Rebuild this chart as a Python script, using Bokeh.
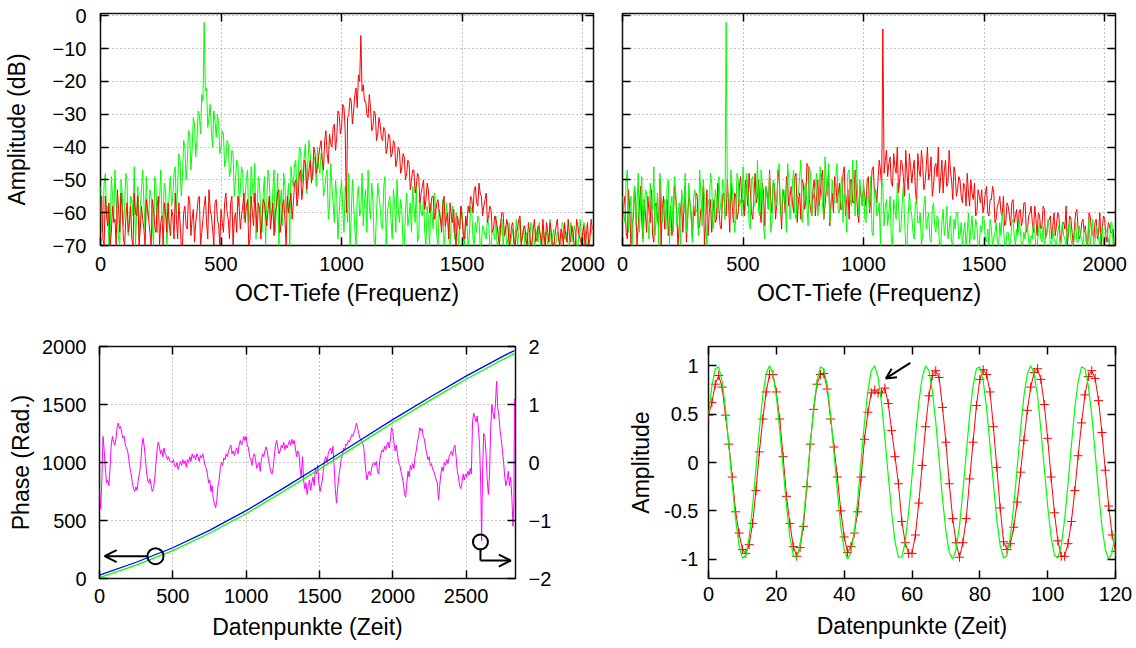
from bokeh.plotting import figure
from bokeh.layouts import column, row
from bokeh.models import (Range1d, LinearAxis, FixedTicker, Arrow, OpenHead,
                          CustomJSTickFormatter)
from bokeh.embed import file_html
from bokeh.resources import INLINE

FONT = "Liberation Sans"

# ---------------- data: spectra (top row) ----------------
# values on the 10-unit grid (0, 10, 20, ...) and on the half grid (5, 15, 25, ...)
spec_step = 10
tl_green = [-52,-63,-48,-58,-66,-55,-47,-61,-70,-54,
            -59,-50,-64,-56,-46,-60,-68,-53,-57,-49,
            -62,-55,-70,-51,-58,-47,-60,-53,-64,-49,
            -55,-46,-52,-44,-49,-40,-45,-36,-41,-33,
            -38,-30,-24,-2,-22,-31,-35,-29,-37,-33,
            -40,-36,-44,-39,-47,-42,-50,-45,-53,-48,
            -55,-47,-60,-51,-45,-58,-52,-66,-49,-56,
            -50,-62,-47,-57,-70,-53,-48,-60,-51,-46,
            -52,-44,-49,-41,-47,-39,-45,-42,-50,-43,
            -40,-48,-44,-53,-47,-58,-52,-63,-55,-60,
            -50,-66,-54,-48,-61,-57,-70,-52,-59,-64,
            -53,-47,-62,-56,-70,-51,-58,-65,-49,-60,
            -55,-68,-57,-50,-63,-59,-70,-54,-61,-66,
            -58,-52,-67,-60,-55,-70,-62,-57,-65,-59,
            -70,-61,-56,-66,-63,-70,-58,-68,-62,-65,
            -60,-70,-64,-67,-59,-70,-66,-62,-70,-65,
            -68,-63,-70,-66,-61,-69,-67,-70,-64,-68,
            -70,-65,-67,-70,-62,-68,-70,-66,-69,-64,
            -70,-67,-63,-69,-70,-66,-68,-70,-65,-69,
            -67,-70,-64,-68,-70,-63,-69,-66,-70,-62,
            -68,-64,-70,-66,-67]
tl_green_half = [-66,-51,-60,-70,-49,-62,-57,-68,-50,-64,
                 -48,-67,-55,-61,-70,-52,-58,-47,-65,-60,
                 -53,-64,-49,-66,-56,-62,-51,-70,-54,-58,
                 -48,-60,-42,-55,-38,-50,-35,-47,-31,-43,
                 -29,-36,-26,-23,-34,-27,-40,-32,-30,-42,
                 -35,-46,-38,-49,-41,-55,-44,-58,-46,-62,
                 -50,-63,-46,-57,-68,-49,-61,-54,-70,-47,
                 -59,-53,-66,-48,-58,-64,-52,-56,-70,-50,
                 -45,-55,-40,-51,-43,-54,-38,-49,-44,-52,
                 -46,-42,-55,-49,-62,-45,-57,-50,-68,-54,
                 -59,-52,-63,-70,-50,-65,-55,-61,-48,-57,
                 -66,-58,-51,-69,-60,-55,-64,-52,-70,-57,
                 -62,-53,-66,-59,-56,-70,-60,-64,-57,-52,
                 -63,-69,-56,-61,-66,-58,-70,-60,-54,-67,
                 -59,-64,-70,-57,-68,-62,-65,-60,-70,-58,
                 -66,-62,-70,-58,-68,-63,-61,-70,-64,-67,
                 -62,-70,-65,-68,-70,-64,-62,-66,-70,-63,
                 -67,-70,-62,-66,-69,-64,-67,-70,-63,-70,
                 -65,-69,-70,-64,-66,-70,-62,-67,-70,-66,
                 -70,-63,-68,-66,-70,-65,-64,-70,-67,-69,
                 -63,-70,-67,-65]
tl_red = [-60,-68,-55,-64,-70,-58,-62,-53,-66,-59,
          -70,-57,-63,-68,-54,-61,-70,-58,-65,-56,
          -62,-70,-59,-66,-55,-63,-70,-60,-57,-67,
          -61,-54,-68,-63,-70,-58,-65,-56,-62,-69,
          -60,-55,-66,-58,-63,-53,-61,-70,-56,-64,
          -59,-66,-54,-62,-57,-70,-60,-55,-65,-58,
          -63,-56,-68,-60,-54,-66,-59,-62,-57,-64,
          -55,-61,-67,-58,-53,-63,-56,-70,-60,-54,
          -57,-50,-55,-47,-52,-45,-50,-44,-48,-42,
          -46,-40,-44,-38,-42,-36,-40,-33,-37,-30,
          -34,-28,-60,-30,-26,-29,-22,-18,-6,-21,
          -26,-31,-28,-34,-30,-36,-33,-38,-35,-40,
          -37,-42,-39,-44,-41,-46,-43,-48,-45,-50,
          -47,-52,-49,-54,-50,-56,-53,-58,-55,-60,
          -56,-62,-58,-64,-60,-57,-63,-66,-61,-65,
          -62,-68,-64,-60,-56,-53,-57,-51,-55,-58,
          -54,-61,-59,-65,-62,-67,-63,-60,-66,-64,
          -68,-63,-70,-65,-61,-67,-64,-70,-66,-69,
          -62,-68,-65,-70,-67,-63,-69,-66,-70,-64,
          -68,-65,-70,-67,-62,-69,-66,-70,-64,-68,
          -66,-70,-63,-68,-65]
tl_red_half = [-55,-70,-61,-57,-66,-63,-70,-59,-54,-68,
               -62,-66,-58,-70,-60,-55,-65,-62,-70,-59,
               -66,-56,-64,-58,-70,-61,-57,-66,-63,-59,
               -68,-62,-57,-70,-60,-64,-55,-67,-59,-63,
               -56,-70,-62,-55,-68,-59,-65,-57,-62,-70,
               -63,-57,-60,-68,-55,-62,-66,-58,-61,-54,
               -58,-70,-55,-64,-60,-57,-68,-56,-61,-59,
               -65,-57,-60,-54,-66,-58,-62,-55,-57,-62,
               -51,-58,-48,-56,-44,-53,-47,-51,-40,-48,
               -43,-38,-47,-35,-45,-39,-34,-41,-29,-36,
               -27,-35,-31,-25,-33,-24,-28,-20,-23,-26,
               -30,-24,-35,-29,-38,-31,-37,-34,-42,-36,
               -43,-38,-46,-40,-48,-42,-50,-44,-53,-47,
               -54,-48,-57,-52,-59,-51,-60,-55,-62,-57,
               -60,-66,-55,-62,-68,-61,-59,-70,-63,-58,
               -67,-61,-58,-55,-60,-52,-58,-54,-61,-56,
               -63,-58,-66,-61,-64,-70,-60,-67,-62,-70,
               -64,-69,-66,-62,-70,-65,-68,-63,-70,-65,
               -69,-64,-67,-62,-70,-66,-63,-70,-67,-62,
               -70,-66,-63,-69,-67,-64,-70,-62,-67,-70,
               -64,-67,-70,-62]
tr_green = [-55,-63,-47,-60,-70,-52,-58,-66,-49,-61,
            -54,-68,-57,-46,-62,-70,-53,-59,-65,-50,
            -58,-66,-52,-61,-70,-56,-48,-63,-57,-69,
            -53,-60,-47,-64,-55,-70,-58,-51,-62,-56,
            -49,-60,-52,-2,-54,-47,-58,-62,-50,-56,
            -46,-59,-53,-65,-49,-57,-44,-61,-52,-68,
            -55,-48,-63,-51,-58,-45,-60,-53,-66,-50,
            -57,-47,-62,-54,-44,-59,-51,-64,-48,-56,
            -52,-61,-46,-58,-43,-55,-63,-50,-57,-45,
            -60,-49,-54,-66,-47,-58,-52,-44,-61,-55,
            -50,-63,-56,-49,-67,-54,-60,-70,-52,-58,
            -64,-55,-70,-59,-51,-66,-57,-62,-70,-54,
            -61,-68,-56,-63,-70,-58,-65,-60,-69,-57,
            -66,-62,-70,-59,-64,-68,-61,-70,-65,-60,
            -67,-70,-63,-66,-70,-61,-68,-64,-70,-66,
            -62,-69,-70,-65,-68,-63,-70,-67,-64,-70,
            -66,-69,-62,-70,-67,-65,-70,-68,-64,-70,
            -68,-66,-70,-63,-69,-70,-67,-65,-70,-68,
            -70,-64,-69,-67,-70,-66,-68,-70,-63,-69,
            -67,-70,-65,-68,-70,-62,-69,-66,-70,-64,
            -69,-66,-70,-63,-68]
tr_green_half = [-60,-50,-66,-55,-58,-64,-48,-57,-69,-53,
                 -62,-51,-59,-67,-54,-48,-63,-56,-52,-70,
                 -55,-49,-64,-57,-53,-60,-66,-51,-62,-55,
                 -59,-67,-54,-50,-62,-56,-48,-65,-53,-60,
                 -57,-50,-62,-55,-60,-52,-66,-48,-58,-61,
                 -53,-48,-63,-50,-58,-55,-60,-47,-64,-52,
                 -59,-66,-50,-56,-48,-61,-53,-58,-45,-62,
                 -51,-60,-55,-49,-63,-52,-58,-46,-61,-54,
                 -48,-57,-53,-62,-50,-45,-58,-55,-49,-60,
                 -52,-63,-57,-48,-56,-44,-61,-53,-50,-58,
                 -62,-55,-59,-66,-53,-61,-57,-50,-64,-56,
                 -60,-68,-56,-62,-58,-65,-52,-70,-61,-59,
                 -66,-57,-63,-60,-67,-55,-62,-68,-59,-64,
                 -61,-70,-63,-67,-58,-65,-69,-62,-60,-68,
                 -63,-66,-70,-60,-65,-68,-62,-70,-64,-61,
                 -68,-65,-62,-70,-66,-69,-63,-60,-70,-66,
                 -70,-63,-67,-65,-62,-70,-66,-64,-69,-67,
                 -63,-70,-66,-68,-64,-67,-62,-70,-65,-69,
                 -66,-70,-63,-68,-65,-62,-70,-67,-69,-64,
                 -68,-65,-70,-62,-67,-70,-64,-68,-66,-70,
                 -65,-68,-63,-70]
tr_red = [-62,-55,-68,-59,-65,-52,-70,-58,-63,-56,
          -66,-60,-53,-69,-57,-64,-70,-55,-61,-67,
          -58,-63,-54,-70,-60,-66,-52,-62,-57,-68,
          -61,-55,-64,-58,-70,-53,-60,-66,-56,-62,
          -59,-65,-54,-61,-57,-51,-63,-55,-60,-49,
          -56,-50,-58,-53,-62,-48,-55,-59,-51,-64,
          -54,-47,-60,-52,-57,-50,-65,-55,-49,-58,
          -52,-60,-48,-56,-62,-51,-57,-46,-59,-53,
          -61,-50,-55,-47,-58,-52,-64,-54,-49,-57,
          -51,-59,-46,-56,-62,-50,-57,-53,-63,-55,
          -52,-58,-49,-56,-46,-53,-50,-47,-4,-44,
          -49,-43,-52,-46,-40,-50,-45,-55,-48,-42,
          -51,-44,-57,-47,-41,-53,-46,-50,-43,-52,
          -45,-40,-49,-54,-44,-51,-47,-56,-48,-53,
          -50,-57,-52,-48,-58,-54,-51,-60,-55,-53,
          -58,-52,-61,-56,-54,-62,-57,-60,-55,-63,
          -58,-64,-56,-61,-66,-59,-62,-57,-65,-60,
          -63,-58,-67,-61,-64,-59,-66,-62,-68,-60,
          -64,-61,-69,-63,-58,-66,-62,-70,-60,-65,
          -67,-62,-64,-70,-61,-66,-63,-68,-60,-65,
          -62,-69,-64,-66,-70]
tr_red_half = [-58,-66,-53,-70,-61,-57,-64,-52,-68,-60,
               -55,-63,-67,-58,-62,-50,-59,-65,-56,-62,
               -67,-52,-60,-64,-56,-59,-69,-55,-61,-58,
               -54,-65,-59,-52,-63,-67,-56,-60,-63,-51,
               -64,-55,-60,-50,-66,-58,-54,-62,-52,-57,
               -61,-53,-48,-60,-55,-57,-50,-63,-54,-52,
               -59,-56,-51,-62,-47,-58,-53,-60,-52,-55,
               -57,-49,-63,-54,-50,-59,-45,-56,-61,-50,
               -55,-58,-49,-62,-53,-48,-57,-60,-51,-54,
               -59,-48,-61,-53,-50,-57,-47,-60,-52,-58,
               -55,-50,-60,-47,-54,-57,-44,-52,-48,-41,
               -45,-51,-42,-48,-54,-44,-49,-41,-53,-46,
               -47,-53,-42,-49,-45,-51,-40,-48,-55,-46,
               -49,-54,-44,-47,-52,-41,-50,-46,-55,-49,
               -55,-51,-58,-54,-50,-56,-61,-53,-57,-60,
               -54,-60,-56,-52,-63,-58,-55,-61,-64,-57,
               -61,-57,-63,-59,-60,-64,-57,-66,-61,-58,
               -66,-62,-60,-65,-58,-68,-63,-61,-64,-67,
               -60,-67,-63,-65,-70,-61,-66,-64,-59,-68,
               -63,-66,-70,-60,-65,-68,-62,-66,-70,-61,
               -67,-63,-66,-65]
spec_xticks = [0, 500, 1000, 1500, 2000]
spec_yticks = [-70, -60, -50, -40, -30, -20, -10, 0]

# ---------------- data: phase (bottom left) ----------------
phase_x = [0, 250, 500, 750, 1000, 1250, 1500, 1750, 2000, 2250, 2500, 2750, 2830]
phase_blue = [30, 140, 265, 415, 585, 775, 970, 1170, 1370, 1560, 1745, 1915, 1965]
phase_green = [8, 115, 240, 390, 558, 748, 943, 1143, 1343, 1533, 1718, 1888, 1938]
phase_diff = [(0,-0.45),(8,-0.80),(16,-0.30),(24,0.45),(32,0.20),(40,-0.10),(48,-0.35),(56,-0.30),
    (64,-0.40),(72,-0.10),(80,0.30),(88,0.45),(96,0.35),(104,0.30),(112,0.40),(120,0.60),(128,0.68),
    (136,0.58),(144,0.62),(152,0.50),(160,0.42),(168,0.45),(176,0.30),(184,0.25),(192,0.20),(200,0.05),
    (208,-0.10),(216,-0.20),(224,-0.35),(232,-0.45),(240,-0.50),(248,-0.42),(256,-0.48),(264,-0.30),
    (272,-0.20),(280,-0.05),(288,0.25),(296,0.42),(304,0.30),(312,0.10),(320,-0.15),(328,-0.30),
    (336,-0.35),(344,-0.28),(352,-0.40),(360,-0.50),(368,-0.45),(376,-0.30),(384,-0.05),(392,0.20),
    (400,0.35),(408,0.28),(416,0.15),(424,0.22),(432,0.10),(440,0.25),(448,0.15),(456,0.12),(464,0.05),
    (472,0.10),(480,0.02),(496,0.00),(504,0.05),(512,-0.05),(520,-0.08),(528,0.00),(536,-0.12),
    (544,-0.05),(552,0.02),(560,-0.05),(568,0.05),(576,-0.02),(584,0.03),(592,-0.08),(600,0.05),
    (608,0.00),(616,0.10),(624,0.02),(632,0.15),(640,0.08),(648,0.12),(656,0.05),(664,0.15),(672,0.10),
    (680,0.02),(688,0.12),(696,0.08),(704,0.15),(712,0.05),(720,-0.05),(728,-0.10),(736,-0.20),
    (744,-0.35),(752,-0.30),(760,-0.50),(768,-0.40),(776,-0.62),(784,-0.72),(792,-0.78),(800,-0.65),
    (808,-0.40),(816,-0.30),(824,-0.10),(832,0.00),(840,-0.05),(848,0.08),(856,0.05),(864,0.15),
    (872,0.10),(880,0.20),(888,0.25),(896,0.30),(904,0.15),(912,0.20),(920,0.12),(928,0.20),(936,0.25),
    (944,0.15),(952,0.30),(960,0.38),(968,0.30),(976,0.35),(984,0.45),(992,0.38),(1000,0.45),
    (1008,0.30),(1016,0.25),(1024,0.10),(1032,0.05),(1040,-0.05),(1048,0.10),(1056,0.15),(1064,0.05),
    (1072,-0.10),(1080,-0.05),(1088,0.00),(1096,-0.15),(1104,0.05),(1112,0.15),(1120,0.10),(1128,0.20),
    (1136,0.27),(1144,0.20),(1152,0.05),(1160,-0.05),(1168,-0.15),(1176,-0.20),(1184,-0.10),(1192,0.10),
    (1200,0.30),(1208,0.38),(1216,0.25),(1224,0.15),(1232,0.20),(1240,0.30),(1248,0.25),(1256,0.35),
    (1264,0.22),(1272,0.30),(1280,0.25),(1288,0.32),(1296,0.38),(1304,0.30),(1312,0.40),(1320,0.32),
    (1328,0.38),(1336,0.25),(1344,0.10),(1352,0.20),(1360,0.15),(1368,-0.10),(1376,-0.25),(1384,0.10),
    (1392,-0.30),(1400,-0.45),(1408,-0.35),(1416,-0.55),(1424,-0.40),(1432,-0.30),(1440,-0.48),
    (1448,-0.35),(1456,-0.25),(1464,-0.40),(1472,-0.10),(1480,-0.20),(1488,-0.05),(1496,-0.35),
    (1504,-0.50),(1512,-0.40),(1520,-0.30),(1528,-0.10),(1536,0.05),(1544,0.10),(1552,0.00),(1560,0.15),
    (1568,0.22),(1576,0.25),(1584,0.15),(1592,0.28),(1600,-0.05),(1608,-0.45),(1616,-0.70),(1624,-0.45),
    (1632,-0.25),(1640,-0.10),(1648,0.05),(1656,0.12),(1664,0.25),(1672,0.22),(1680,0.32),(1688,0.30),
    (1696,0.38),(1704,0.35),(1712,0.42),(1720,0.48),(1728,0.45),(1736,0.52),(1744,0.58),(1752,0.68),
    (1760,0.60),(1768,0.50),(1776,0.42),(1784,0.38),(1792,0.35),(1800,0.30),(1808,0.10),(1816,-0.15),
    (1824,-0.30),(1832,-0.20),(1840,-0.15),(1848,-0.22),(1856,-0.10),(1864,-0.02),(1872,0.00),
    (1880,-0.05),(1888,0.02),(1896,-0.15),(1904,-0.20),(1912,0.05),(1920,0.15),(1928,0.22),(1936,0.18),
    (1944,0.28),(1952,0.22),(1960,0.30),(1968,0.35),(1976,0.25),(1984,0.40),(1992,0.60),(2000,0.55),
    (2008,0.35),(2016,0.20),(2024,0.30),(2032,0.15),(2040,0.00),(2048,-0.05),(2056,-0.15),(2064,-0.25),
    (2072,-0.35),(2080,-0.55),(2088,-0.60),(2096,-0.35),(2104,-0.15),(2112,-0.25),(2120,-0.05),
    (2128,-0.12),(2136,-0.02),(2144,-0.10),(2152,0.10),(2160,0.20),(2168,0.35),(2176,0.45),(2184,0.60),
    (2192,0.55),(2200,0.58),(2208,0.45),(2216,0.40),(2224,0.25),(2232,0.15),(2240,0.05),(2248,0.10),
    (2256,-0.05),(2264,-0.02),(2272,-0.12),(2280,-0.15),(2288,-0.22),(2296,-0.30),(2304,-0.35),
    (2312,-0.65),(2320,-0.40),(2328,-0.20),(2336,-0.08),(2344,-0.15),(2352,0.00),(2360,-0.05),
    (2368,0.05),(2376,-0.02),(2384,0.10),(2392,0.15),(2400,0.20),(2408,0.12),(2416,0.25),(2424,0.30),
    (2432,0.10),(2440,-0.15),(2448,-0.25),(2456,-0.40),(2464,-0.45),(2472,-0.35),(2480,-0.20),
    (2488,-0.30),(2496,-0.20),(2504,-0.25),(2512,-0.15),(2520,-0.22),(2528,-0.10),(2536,-0.20),
    (2544,0.70),(2552,0.85),(2560,0.78),(2568,0.70),(2576,0.80),(2584,0.60),(2592,0.30),(2600,-0.40),
    (2606,-1.35),(2612,-0.20),(2620,0.50),(2628,0.45),(2636,0.15),(2644,-0.30),(2652,-0.55),
    (2660,-0.20),(2668,0.60),(2676,1.00),(2684,0.85),(2692,0.75),(2700,1.00),(2708,1.40),(2716,0.95),
    (2724,0.80),(2732,0.55),(2740,0.40),(2748,0.20),(2756,0.00),(2764,-0.25),(2772,-0.40),(2780,-0.30),
    (2788,-0.15),(2796,-0.40),(2804,-0.25),(2812,-0.60),(2820,-1.10),(2826,-0.70),(2830,1.10)]
diff_x = [a for a, b in phase_diff]
diff_y = [b for a, b in phase_diff]
phase_xticks = [0, 500, 1000, 1500, 2000, 2500]
phase_yticks = [0, 500, 1000, 1500, 2000]
diff_yticks = [-2, -1, 0, 1, 2]

# ---------------- data: signal (bottom right) ----------------
sig_x = list(range(121))
sig_green = [0.49,0.79,0.97,0.99,0.84,0.56,0.18,-0.22,-0.59,-0.86,
             -0.99,-0.96,-0.77,-0.45,-0.06,0.34,0.69,0.92,1.00,0.92,
             0.69,0.34,-0.06,-0.45,-0.77,-0.96,-0.99,-0.86,-0.59,-0.22,
             0.18,0.56,0.84,0.99,0.97,0.79,0.49,0.10,-0.30,-0.66,
             -0.90,-1.00,-0.93,-0.72,-0.38,0.02,0.42,0.74,0.95,1.00,
             0.88,0.62,0.26,-0.14,-0.52,-0.82,-0.98,-0.98,-0.82,-0.52,
             -0.14,0.26,0.62,0.88,1.00,0.95,0.74,0.42,0.02,-0.38,
             -0.71,-0.93,-1.00,-0.90,-0.66,-0.30,0.10,0.49,0.79,0.97,
             0.99,0.84,0.56,0.18,-0.22,-0.59,-0.86,-0.99,-0.96,-0.77,
             -0.45,-0.06,0.34,0.69,0.92,1.00,0.92,0.69,0.34,-0.06,
             -0.45,-0.77,-0.96,-0.99,-0.86,-0.59,-0.22,0.18,0.56,0.84,
             0.99,0.97,0.79,0.49,0.10,-0.30,-0.66,-0.90,-1.00,-0.93,
             -0.72]
sig_red = [0.49,0.62,0.81,0.90,0.78,0.49,0.19,-0.15,-0.51,-0.73,
           -0.90,-0.94,-0.85,-0.63,-0.29,0.11,0.45,0.73,0.91,0.91,
           0.73,0.45,0.06,-0.35,-0.63,-0.87,-0.97,-0.88,-0.66,-0.25,
           0.19,0.55,0.81,0.91,0.92,0.76,0.45,0.16,-0.15,-0.50,
           -0.77,-0.93,-0.87,-0.73,-0.51,-0.15,0.24,0.52,0.72,0.75,
           0.72,0.72,0.77,0.61,0.33,0.06,-0.22,-0.61,-0.83,-0.94,
           -0.94,-0.75,-0.42,-0.03,0.37,0.69,0.90,0.95,0.88,0.57,
           0.21,-0.22,-0.58,-0.83,-0.98,-0.83,-0.58,-0.17,0.21,0.59,
           0.86,0.96,0.91,0.73,0.37,-0.05,-0.47,-0.82,-0.90,-0.84,
           -0.67,-0.41,-0.10,0.23,0.54,0.78,0.93,0.97,0.86,0.60,
           0.25,-0.15,-0.52,-0.81,-0.97,-0.97,-0.84,-0.61,-0.29,0.07,
           0.41,0.70,0.89,0.95,0.87,0.64,0.31,-0.08,-0.45,-0.75,
           -0.92]
sig_xticks = [0, 20, 40, 60, 80, 100, 120]
sig_yticks = [-1, -0.5, 0, 0.5, 1]

# ---------------- annotation anchors ----------------
ann_left_circle = (382, 192)          # phase axis units
ann_left_arrow = (325, 192, 35, 192)
ann_right_circle = (2598, -1.37)      # difference axis units
ann_right_path = (2598, -1.48, -1.69, 2805)
ann_sig_arrow = (59.5, 1.03, 52.3, 0.87)

RED = "#ff0000"
GREEN = "#00ff00"
BLUE = "#0000ff"
MAGENTA = "#ff00ff"


def merge(full, half):
    xs, ys = [], []
    for i, v in enumerate(full):
        xs.append(i * spec_step)
        ys.append(v)
        if i < len(half):
            xs.append(i * spec_step + spec_step / 2)
            ys.append(half[i])
    return xs, ys


def style_axis(ax, ticks, labels=True, standoff=12, size="20px"):
    ax.ticker = FixedTicker(ticks=ticks)
    ax.major_tick_in = 8
    ax.major_tick_out = 0
    ax.minor_tick_in = 0
    ax.minor_tick_out = 0
    ax.axis_line_color = None
    ax.major_tick_line_color = "black"
    ax.major_tick_line_width = 1.5
    ax.major_label_text_font = FONT
    ax.major_label_text_color = "black"
    ax.axis_label_text_font = FONT
    ax.axis_label_text_font_size = "23px"
    ax.axis_label_text_font_style = "normal"
    ax.axis_label_text_color = "black"
    if labels:
        ax.major_label_text_font_size = size
        ax.major_label_standoff = standoff
    else:
        ax.formatter = CustomJSTickFormatter(code="return ''")
        ax.major_label_text_font_size = "0px"
        ax.major_label_standoff = 0


def make_fig(w, h, xr, yr, borders):
    p = figure(width=w, height=h, x_range=Range1d(*xr), y_range=Range1d(*yr),
               output_backend="svg", toolbar_location=None,
               min_border_left=borders[0], min_border_right=borders[1],
               min_border_top=borders[2], min_border_bottom=borders[3],
               background_fill_color="white", border_fill_color="white")
    p.outline_line_color = "#111111"
    p.outline_line_width = 1.5
    p.outline_line_alpha = 1.0
    return p


def style_grid(p):
    for g in (p.xgrid, p.ygrid):
        g.grid_line_color = "#8a8a8a"
        g.grid_line_dash = "1 3"
        g.grid_line_width = 1


def add_mirrors(p, xticks, yticks, right=True):
    top = LinearAxis()
    style_axis(top, xticks, labels=False)
    p.add_layout(top, "above")
    if right:
        rax = LinearAxis()
        style_axis(rax, yticks, labels=False)
        p.add_layout(rax, "right")


def spectrum_fig(w, borders, green, green_h, red, red_h, show_ylabels, green_first):
    p = make_fig(w, 318, (0, 2045), (-70, 0.7), borders)
    style_axis(p.xaxis[0], spec_xticks, standoff=11)
    p.xaxis.axis_label = "OCT-Tiefe (Frequenz)"
    p.xaxis.axis_label_standoff = 6
    style_axis(p.yaxis[0], spec_yticks, labels=show_ylabels, standoff=14)
    if show_ylabels:
        p.yaxis.axis_label = "Amplitude (dB)"
        p.yaxis.axis_label_standoff = 20
    style_grid(p)
    add_mirrors(p, spec_xticks, spec_yticks)
    gx, gy = merge(green, green_h)
    rx, ry = merge(red, red_h)
    if green_first:
        p.line(gx, gy, line_color=GREEN, line_width=1)
        p.line(rx, ry, line_color=RED, line_width=1)
    else:
        p.line(rx, ry, line_color=RED, line_width=1)
        p.line(gx, gy, line_color=GREEN, line_width=1)
    return p


p1 = spectrum_fig(608, (100, 15, 13, 73), tl_green, tl_green_half, tl_red, tl_red_half, True, True)
p2 = spectrum_fig(528, (14, 21, 13, 73), tr_green, tr_green_half, tr_red, tr_red_half, False, False)

# ---------------- bottom left: phase ----------------
p3 = make_fig(608, 330, (0, 2837), (0, 2000), (99, 93, 28, 70))
p3.extra_y_ranges = {"diff": Range1d(-2, 2)}
style_axis(p3.xaxis[0], phase_xticks, standoff=10)
p3.xaxis.axis_label = "Datenpunkte (Zeit)"
p3.xaxis.axis_label_standoff = 8
style_axis(p3.yaxis[0], phase_yticks, standoff=13)
p3.yaxis.axis_label = "Phase (Rad.)"
p3.yaxis.axis_label_standoff = 5
style_grid(p3)
top3 = LinearAxis()
style_axis(top3, phase_xticks, labels=False)
p3.add_layout(top3, "above")
r3 = LinearAxis(y_range_name="diff")
style_axis(r3, diff_yticks, standoff=13)
p3.add_layout(r3, "right")

p3.line(diff_x, diff_y, line_color=MAGENTA, line_width=1, y_range_name="diff")
p3.line(phase_x, phase_green, line_color=GREEN, line_width=1.3)
p3.line(phase_x, phase_blue, line_color=BLUE, line_width=1.3)

p3.scatter([ann_left_circle[0]], [ann_left_circle[1]], marker="circle", size=16,
           fill_color=None, line_color="black", line_width=2)
p3.add_layout(Arrow(end=OpenHead(size=12, line_width=2, line_color="black"),
                    x_start=ann_left_arrow[0], y_start=ann_left_arrow[1],
                    x_end=ann_left_arrow[2], y_end=ann_left_arrow[3],
                    line_width=2, line_color="black"))
p3.scatter([ann_right_circle[0]], [ann_right_circle[1]], marker="circle", size=15,
           fill_color=None, line_color="black", line_width=2, y_range_name="diff")
p3.add_layout(Arrow(end=None, x_start=ann_right_path[0], y_start=ann_right_path[1],
                    x_end=ann_right_path[0], y_end=ann_right_path[2],
                    line_width=2, line_color="black", y_range_name="diff"))
p3.add_layout(Arrow(end=OpenHead(size=12, line_width=2, line_color="black"),
                    x_start=ann_right_path[0], y_start=ann_right_path[2],
                    x_end=ann_right_path[3], y_end=ann_right_path[2],
                    line_width=2, line_color="black", y_range_name="diff"))

# ---------------- bottom right: signal ----------------
p4 = make_fig(528, 330, (0, 120), (-1.2, 1.2), (100, 21, 27, 70))
style_axis(p4.xaxis[0], sig_xticks, standoff=8)
p4.xaxis.axis_label = "Datenpunkte (Zeit)"
p4.xaxis.axis_label_standoff = 9
style_axis(p4.yaxis[0], sig_yticks, standoff=10)
p4.yaxis.major_label_overrides = {-1: "-1", -0.5: "-0.5", 0: "0", 0.5: "0.5", 1: "1"}
p4.yaxis.axis_label = "Amplitude"
p4.yaxis.axis_label_standoff = 7
p4.grid.visible = False
add_mirrors(p4, sig_xticks, sig_yticks)

p4.line(sig_x, sig_red, line_color=RED, line_width=1)
p4.scatter(sig_x, sig_red, marker="cross", size=9, line_color=RED, line_width=1)
p4.line(sig_x, sig_green, line_color=GREEN, line_width=1.2)
p4.add_layout(Arrow(end=OpenHead(size=10, line_width=2, line_color="black"),
                    x_start=ann_sig_arrow[0], y_start=ann_sig_arrow[1],
                    x_end=ann_sig_arrow[2], y_end=ann_sig_arrow[3],
                    line_width=2, line_color="black"))

layout = column(row(p1, p2), row(p3, p4))
open("out.html", "w").write(file_html(layout, INLINE))
